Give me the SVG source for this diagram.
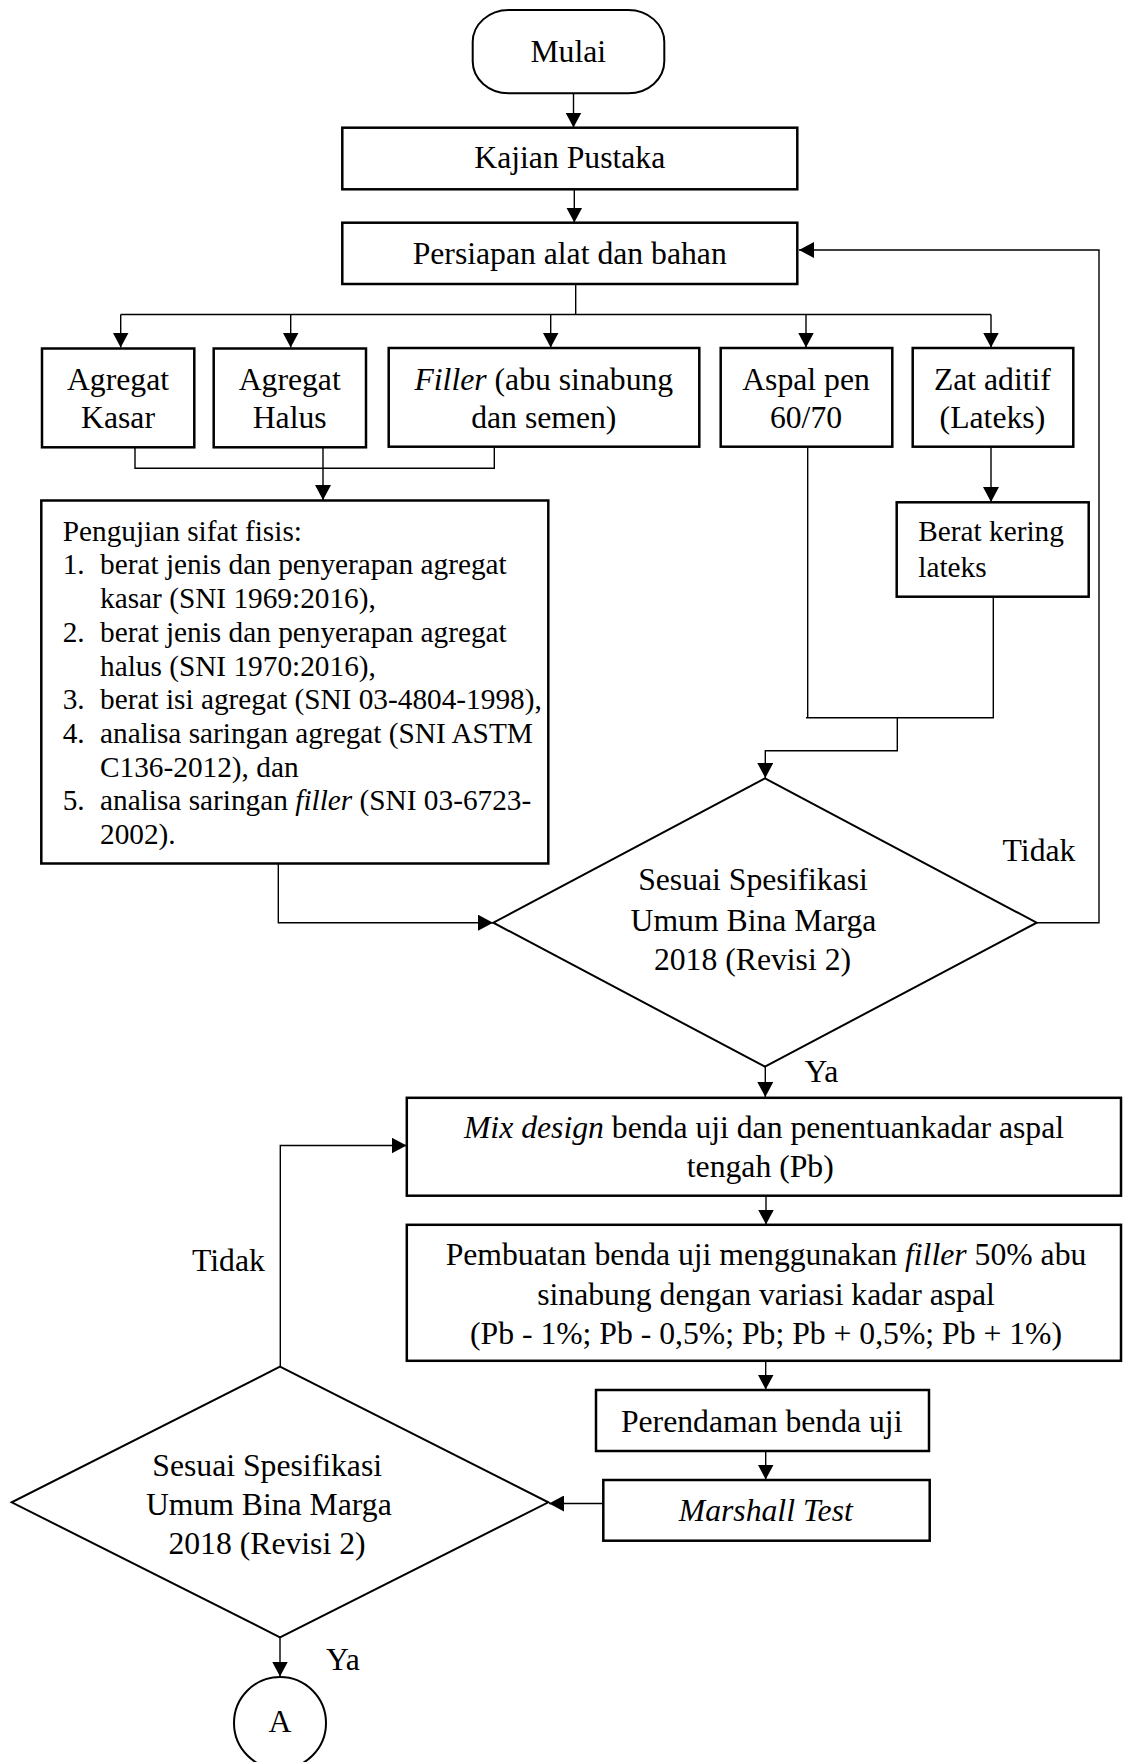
<svg xmlns="http://www.w3.org/2000/svg" width="1123" height="1762" viewBox="0 0 1123 1762">
<style>
  .box { fill: #fff; stroke: #000; stroke-width: 2.5; }
  .dia { fill: #fff; stroke: #000; stroke-width: 2; }
  .term { fill: #fff; stroke: #000; stroke-width: 2; }
  .conn path { fill: none; stroke: #000; stroke-width: 1.4; }
  .t { font-family: "Liberation Serif", "Times New Roman", serif; font-size: 31.7px; fill: #000; }
  .s { font-family: "Liberation Serif", "Times New Roman", serif; font-size: 29.3px; fill: #000; }
  .c { text-anchor: middle; }
  .i { font-style: italic; }
</style>
<defs>
  <marker id="ah" markerUnits="userSpaceOnUse" markerWidth="15" markerHeight="16" refX="15" refY="8" orient="auto" viewBox="0 0 15 16">
    <path d="M0,0 L15,8 L0,16 z" fill="#000"/>
  </marker>
</defs>
<rect width="1123" height="1762" fill="#fff"/>

<g class="conn">
  <path d="M573.5,93.3 V127.5" marker-end="url(#ah)"/>
  <path d="M574.3,189.3 V222.5" marker-end="url(#ah)"/>
  <path d="M575.7,284 V314.5"/>
  <path d="M120.7,314.5 H991"/>
  <path d="M120.7,314.5 V347.5" marker-end="url(#ah)"/>
  <path d="M290.7,314.5 V347.5" marker-end="url(#ah)"/>
  <path d="M550.7,314.5 V347.5" marker-end="url(#ah)"/>
  <path d="M806,314.5 V347.5" marker-end="url(#ah)"/>
  <path d="M991,314.5 V347.5" marker-end="url(#ah)"/>
  <path d="M135,447.3 V468.3 H494.3 V447.3"/>
  <path d="M323,447.3 V500" marker-end="url(#ah)"/>
  <path d="M991,446.7 V502" marker-end="url(#ah)"/>
  <path d="M807.7,446.7 V717.7"/>
  <path d="M993.3,596.7 V717.7 H806"/>
  <path d="M897.3,717.7 V750.7 H765.3 V778" marker-end="url(#ah)"/>
  <path d="M278.3,863.3 V922.7 H493" marker-end="url(#ah)"/>
  <path d="M1036.7,922.7 H1099 V250 H799" marker-end="url(#ah)"/>
  <path d="M765.3,1066.7 V1097" marker-end="url(#ah)"/>
  <path d="M766,1195.7 V1224.5" marker-end="url(#ah)"/>
  <path d="M765.7,1360.7 V1389.5" marker-end="url(#ah)"/>
  <path d="M765.7,1451 V1479.5" marker-end="url(#ah)"/>
  <path d="M603.3,1503.5 H549" marker-end="url(#ah)"/>
  <path d="M280.3,1366.7 V1145.5 H406.5" marker-end="url(#ah)"/>
  <path d="M280,1637.3 V1676.5" marker-end="url(#ah)"/>
</g>

<g id="mulai">
  <rect class="term" x="472.7" y="10" width="191.6" height="83.3" rx="36" ry="32"/>
  <text class="t c" x="568.3" y="61.7">Mulai</text>
</g>

<g id="kajian">
  <rect class="box" x="342.3" y="127.7" width="455" height="61.6"/>
  <text class="t c" x="569.8" y="168.3">Kajian Pustaka</text>
</g>

<g id="persiapan">
  <rect class="box" x="342.3" y="222.7" width="455" height="61.3"/>
  <text class="t c" x="569.7" y="264">Persiapan alat dan bahan</text>
</g>

<g id="agregat-kasar">
  <rect class="box" x="42" y="348.5" width="152.3" height="98.8"/>
  <text class="t c" x="118" y="389.8">Agregat</text>
  <text class="t c" x="118" y="428.2">Kasar</text>
</g>

<g id="agregat-halus">
  <rect class="box" x="213.7" y="348.5" width="152.3" height="98.8"/>
  <text class="t c" x="289.7" y="389.8">Agregat</text>
  <text class="t c" x="289.7" y="428.2">Halus</text>
</g>

<g id="filler">
  <rect class="box" x="388.7" y="348" width="310.6" height="98.7"/>
  <text class="t c" x="543.8" y="389.5"><tspan class="i">Filler</tspan> (abu sinabung</text>
  <text class="t c" x="543.8" y="428">dan semen)</text>
</g>

<g id="aspal">
  <rect class="box" x="720.7" y="348" width="171.6" height="98.7"/>
  <text class="t c" x="806" y="389.5">Aspal pen</text>
  <text class="t c" x="806" y="428">60/70</text>
</g>

<g id="zat-aditif">
  <rect class="box" x="912.7" y="348" width="160.6" height="98.7"/>
  <text class="t c" x="992.4" y="389.5">Zat aditif</text>
  <text class="t c" x="992.4" y="428">(Lateks)</text>
</g>

<g id="berat-kering">
  <rect class="box" x="896.7" y="502.3" width="192" height="94.4"/>
  <text class="s" x="918.3" y="540.7">Berat kering</text>
  <text class="s" x="918.3" y="576.7">lateks</text>
</g>

<g id="pengujian">
  <rect class="box" x="41.3" y="500.5" width="507" height="363"/>
  <text class="s" x="62.7" y="540.7">Pengujian sifat fisis:</text>
  <text class="s" x="62.7" y="574.4">1.</text>
  <text class="s" x="100" y="574.4">berat jenis dan penyerapan agregat</text>
  <text class="s" x="100" y="608.1">kasar (SNI 1969:2016),</text>
  <text class="s" x="62.7" y="641.8">2.</text>
  <text class="s" x="100" y="641.8">berat jenis dan penyerapan agregat</text>
  <text class="s" x="100" y="675.5">halus (SNI 1970:2016),</text>
  <text class="s" x="62.7" y="709.2">3.</text>
  <text class="s" x="100" y="709.2">berat isi agregat (SNI 03-4804-1998),</text>
  <text class="s" x="62.7" y="742.9">4.</text>
  <text class="s" x="100" y="742.9">analisa saringan agregat (SNI ASTM</text>
  <text class="s" x="100" y="776.6">C136-2012), dan</text>
  <text class="s" x="62.7" y="810.3">5.</text>
  <text class="s" x="100" y="810.3">analisa saringan <tspan class="i">filler</tspan> (SNI 03-6723-</text>
  <text class="s" x="100" y="844">2002).</text>
</g>

<g id="keputusan-1">
  <polygon class="dia" points="765,778.3 1036.7,922.7 765,1066.7 493.3,922.7"/>
  <text class="t c" x="753" y="890">Sesuai Spesifikasi</text>
  <text class="t c" x="753.5" y="930.5">Umum Bina Marga</text>
  <text class="t c" x="752.5" y="970">2018 (Revisi 2)</text>
</g>
<text class="t" x="1002.6" y="861">Tidak</text>
<text class="t" x="804.5" y="1081.7">Ya</text>

<g id="mix-design">
  <rect class="box" x="406.8" y="1097.8" width="714.2" height="97.9"/>
  <text class="t c" x="764" y="1138.3"><tspan class="i">Mix design</tspan> benda uji dan penentuankadar aspal</text>
  <text class="t c" x="760.3" y="1177.3">tengah (Pb)</text>
</g>

<g id="pembuatan">
  <rect class="box" x="406.8" y="1224.8" width="714.2" height="136"/>
  <text class="t c" x="766" y="1265">Pembuatan benda uji menggunakan <tspan class="i">filler</tspan> 50% abu</text>
  <text class="t c" x="766" y="1305">sinabung dengan variasi kadar aspal</text>
  <text class="t c" x="766" y="1344">(Pb - 1%; Pb - 0,5%; Pb; Pb + 0,5%; Pb + 1%)</text>
</g>

<g id="perendaman">
  <rect class="box" x="596" y="1390" width="333" height="61"/>
  <text class="t c" x="761.7" y="1432.3">Perendaman benda uji</text>
</g>

<g id="marshall">
  <rect class="box" x="603.3" y="1480" width="326.4" height="60.7"/>
  <text class="t c i" x="765.8" y="1521">Marshall Test</text>
</g>

<g id="keputusan-2">
  <polygon class="dia" points="280,1366.7 548.3,1502.3 280,1637.3 11.7,1502.3"/>
  <text class="t c" x="267.2" y="1476">Sesuai Spesifikasi</text>
  <text class="t c" x="268.8" y="1515">Umum Bina Marga</text>
  <text class="t c" x="267" y="1554">2018 (Revisi 2)</text>
</g>
<text class="t" x="192" y="1271">Tidak</text>
<text class="t" x="326" y="1670">Ya</text>

<g id="konektor-a">
  <ellipse class="term" cx="280" cy="1723" rx="46" ry="46"/>
  <text class="t c" x="280" y="1732">A</text>
</g>
</svg>
